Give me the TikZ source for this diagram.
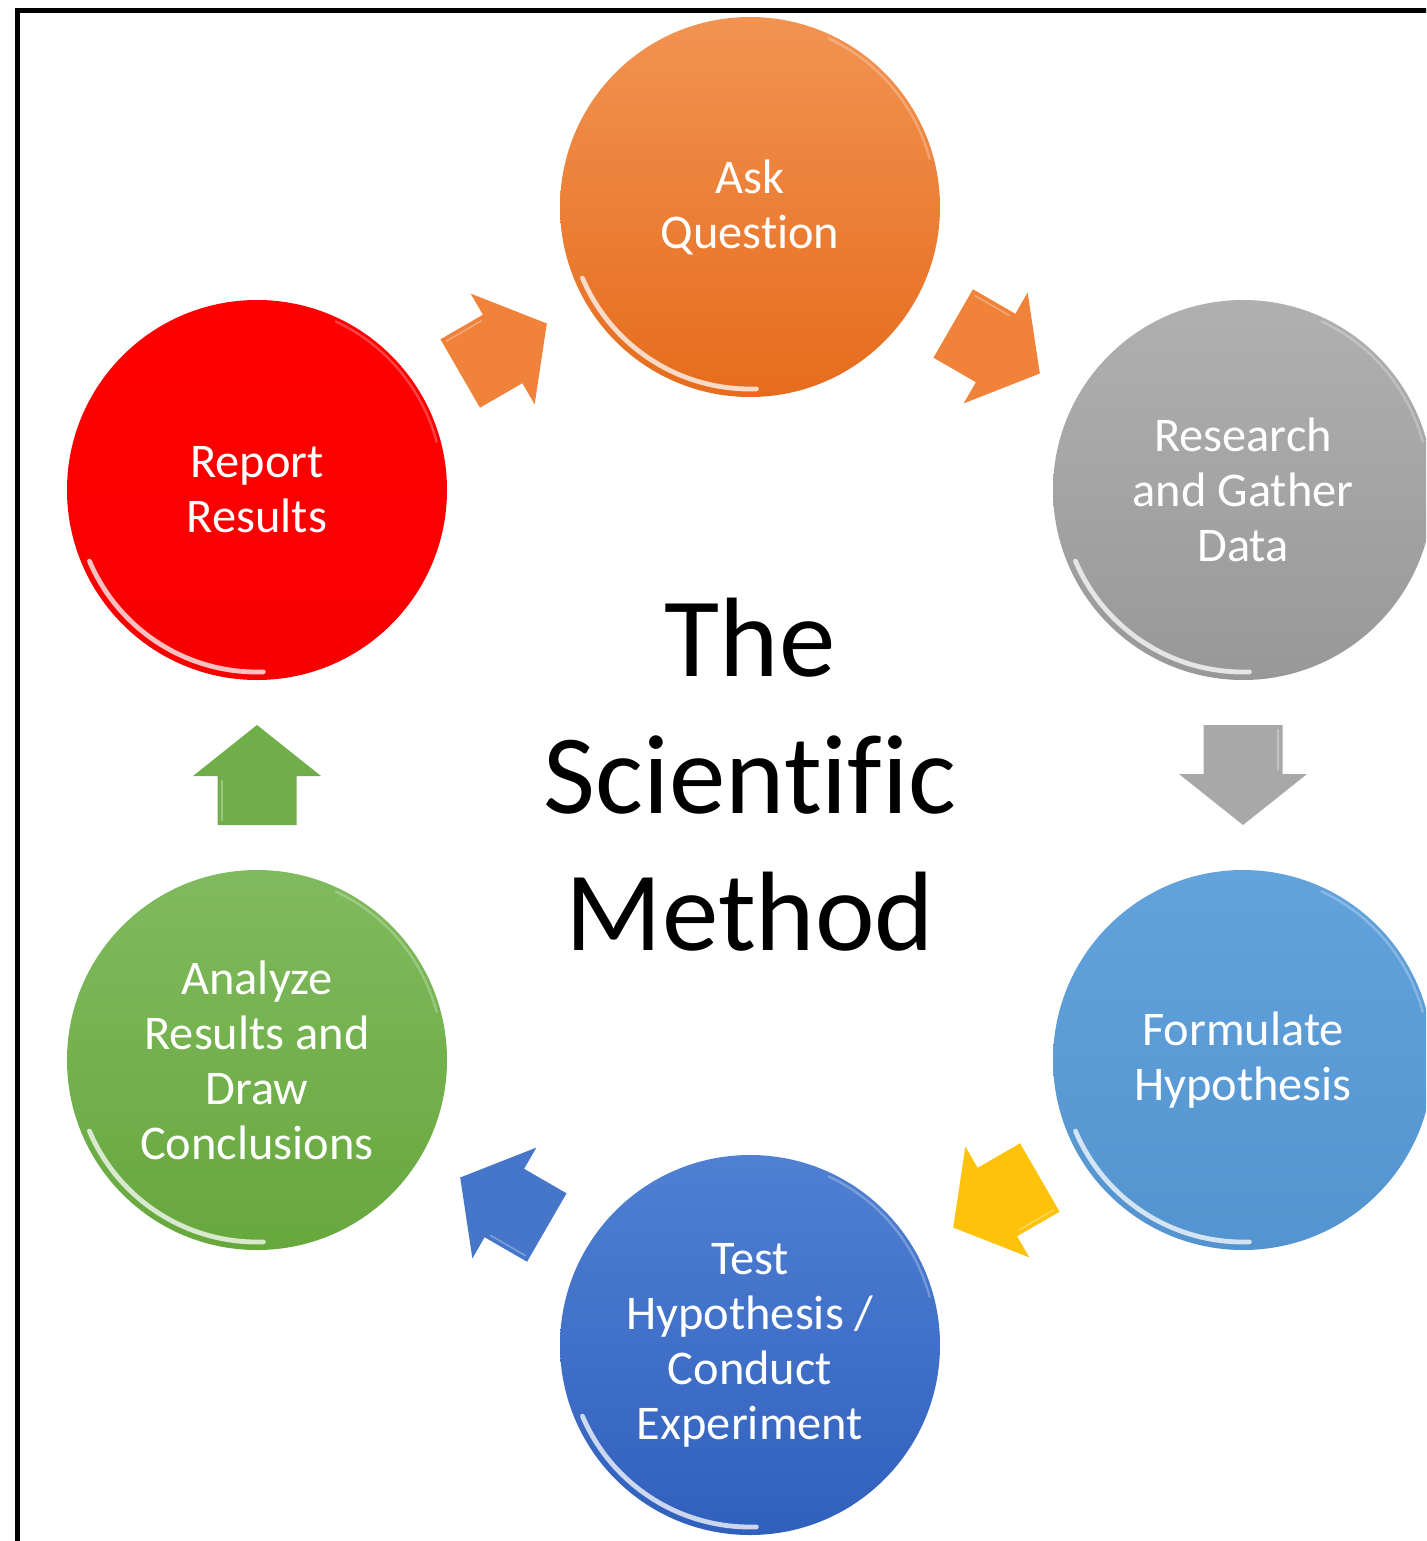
\documentclass[tikz,border=0pt]{standalone}
\usepackage{fontspec}
\setmainfont{Carlito}[Ligatures={NoCommon}]
\usetikzlibrary{calc}

\definecolor{askA}{HTML}{F29352}
\definecolor{askB}{HTML}{E66C1C}
\definecolor{resA}{HTML}{B0B0B0}
\definecolor{resB}{HTML}{989898}
\definecolor{forA}{HTML}{63A3DC}
\definecolor{forB}{HTML}{5393CF}
\definecolor{tstA}{HTML}{5080D2}
\definecolor{tstB}{HTML}{3060BD}
\definecolor{anaA}{HTML}{80BA5E}
\definecolor{anaB}{HTML}{67A83D}
\definecolor{repA}{HTML}{FF0000}
\definecolor{repB}{HTML}{F80000}
\definecolor{arOrange}{HTML}{F0823A}
\definecolor{arGray}{HTML}{A8A8A8}
\definecolor{arYellow}{HTML}{FFC20A}
\definecolor{arBlue}{HTML}{4676CA}
\definecolor{arGreen}{HTML}{6FAE48}

\tikzset{
  stage/.style n args={2}{circle, minimum size=190pt, inner sep=0pt,
    top color=#1, bottom color=#2, text=white, align=center,
    font=\fontsize{24.2}{27.5}\selectfont},
  title/.style={align=center, text=black, font=\fontsize{56.5}{68.5}\selectfont},
  rim/.style={white, opacity=0.75, line width=2.4pt, line cap=round},
  softrim/.style={white, opacity=0.25, line width=1.2pt, line cap=round},
  pics/blockarrow/.style={code={
    \fill[#1] (-25pt,-19.75pt) -- (-0.5pt,-19.75pt) -- (-0.5pt,-32pt)
      -- (25pt,0pt) -- (-0.5pt,32pt) -- (-0.5pt,19.75pt)
      -- (-25pt,19.75pt) -- cycle;
    \draw[white, opacity=0.3, line width=0.8pt]
      (-23pt,17.5pt) -- (-2.5pt,17.5pt);
  }}
}

% glossy bevel highlights along the inner edge of a stage
\newcommand{\glossrim}[1]{%
  \draw[rim] (#1.center) ++(203:91pt) arc[start angle=203, end angle=272, radius=91pt];
  \draw[softrim] (#1.center) ++(15:93pt) arc[start angle=15, end angle=65, radius=93pt];
}

\begin{document}
\begin{tikzpicture}[x=0.5pt, y=-0.5pt]
  \useasboundingbox (0,0) rectangle (1426,1541);
  \clip (0,0) rectangle (1426,1541);
  \fill[white] (0,0) rectangle (1426,1541);

  % frame (top and left edges)
  \draw[black, line width=2.5pt] (17.5,1600) -- (17.5,10.5) -- (1500,10.5);

  % stages of the cycle
  \node[stage={askA}{askB}] (ask) at (750,207) {Ask\\Question};
  \node[stage={resA}{resB}] (res) at (1243,490) {Research\\and Gather\\Data};
  \node[stage={forA}{forB}] (hyp) at (1243,1060) {Formulate\\Hypothesis};
  \node[stage={tstA}{tstB}] (tst) at (750,1345) {Test\\Hypothesis /\\Conduct\\Experiment};
  \node[stage={anaA}{anaB}] (ana) at (257,1060) {Analyze\\Results and\\Draw\\Conclusions};
  \node[stage={repA}{repB}] (rep) at (257,490) {Report\\Results};

  \glossrim{ask}
  \glossrim{res}
  \glossrim{hyp}
  \glossrim{tst}
  \glossrim{ana}
  \glossrim{rep}

  % title
  \node[title] (ttl) at (750,775) {The\\Scientific\\Method};

  % arrows between consecutive stages
  \pic[rotate=30]  at ($(rep)!0.5!(ask)$) {blockarrow=arOrange};
  \pic[rotate=-30] at ($(ask)!0.5!(res)$) {blockarrow=arOrange};
  \pic[rotate=-90] at ($(res)!0.5!(hyp)$) {blockarrow=arGray};
  \pic[rotate=210] at ($(hyp)!0.5!(tst)$) {blockarrow=arYellow};
  \pic[rotate=150] at ($(tst)!0.5!(ana)$) {blockarrow=arBlue};
  \pic[rotate=90]  at ($(ana)!0.5!(rep)$) {blockarrow=arGreen};
\end{tikzpicture}
\end{document}
